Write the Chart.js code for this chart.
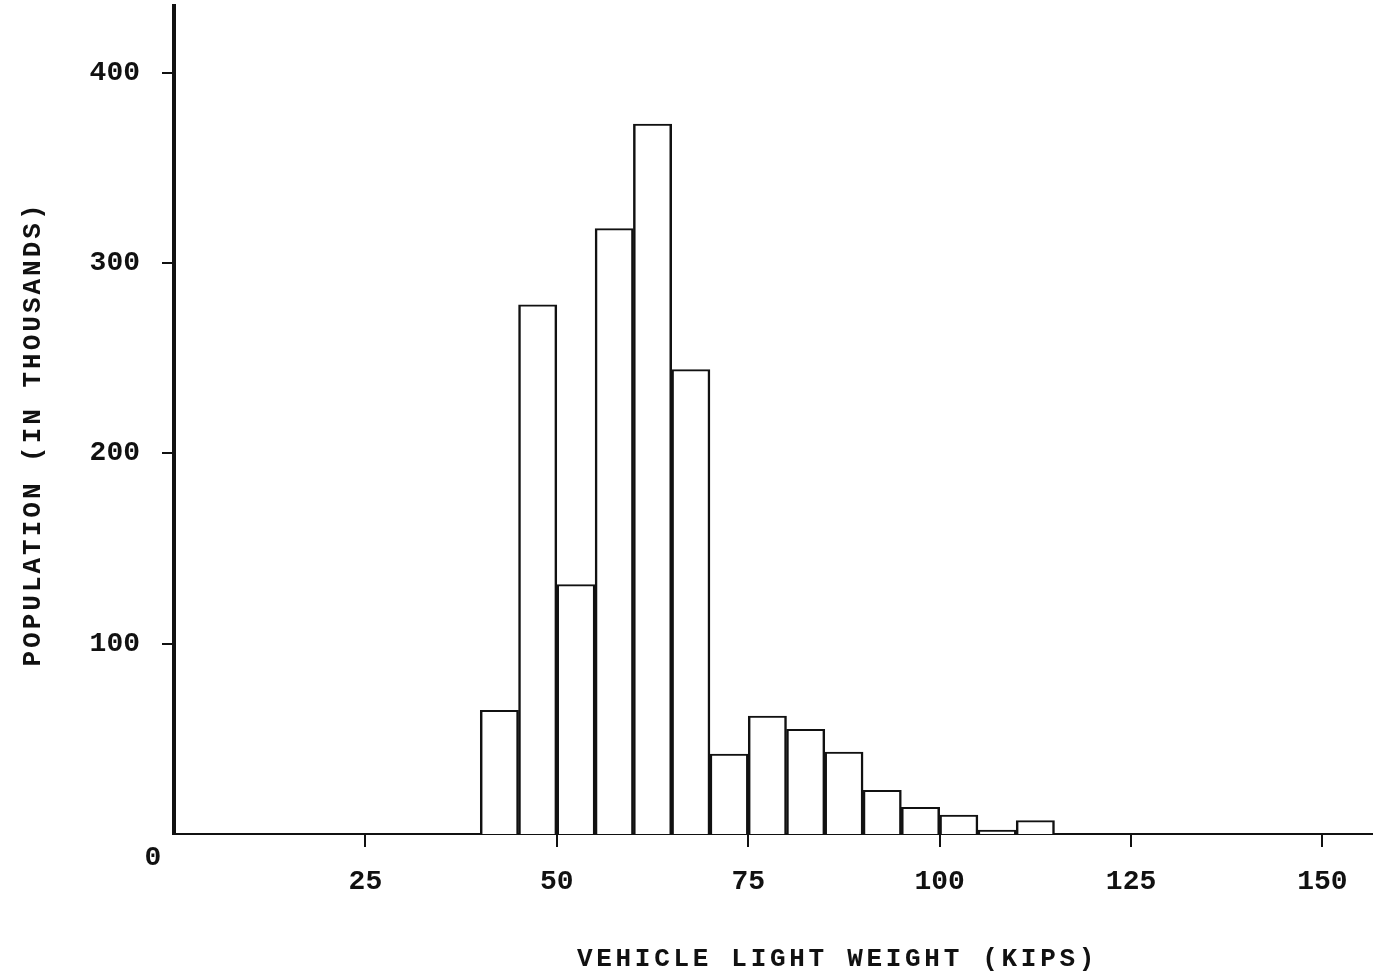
<!DOCTYPE html>
<html><head><meta charset="utf-8">
<script src="https://cdn.jsdelivr.net/npm/chart.js@4/dist/chart.umd.min.js"></script>
<style>html,body{margin:0;padding:0;background:#fff}#wrap{width:1373px;height:979px;position:relative}</style>
</head><body><div id="wrap"><canvas id="c"></canvas></div>
<script>
// ---- data ----
const binStarts = [40, 45, 50, 55, 60, 65, 70, 75, 80, 85, 90, 95, 100, 105, 110];
const binWidth = 5;
const population = [65, 278, 131, 318, 373, 244, 42, 62, 55, 43, 23, 14, 10, 2, 7];
const xTicks = [25, 50, 75, 100, 125, 150];
const yTicks = [100, 200, 300, 400];
const xTitle = 'VEHICLE LIGHT WEIGHT (KIPS)';
const yTitle = 'POPULATION (IN THOUSANDS)';
const originLabel = '0';

const FONT = "'Liberation Mono', 'DejaVu Sans Mono', monospace";
const INK = '#111';

const points = binStarts.map((s, i) => ({ x: s + binWidth / 2, y: population[i] }));

const titlesPlugin = {
  id: 'titles',
  afterDraw(chart) {
    const { ctx, chartArea, scales } = chart;
    ctx.save();
    ctx.fillStyle = INK;
    ctx.font = "bold 26px " + FONT;
    ctx.textAlign = 'center';
    ctx.textBaseline = 'middle';
    // x title
    ctx.letterSpacing = '3.7px';
    const cx = (chartArea.left + chartArea.right) / 2 + 64;
    ctx.fillText(xTitle, cx, 959);
    // y title
    ctx.letterSpacing = '3px';
    ctx.save();
    ctx.translate(33, (chartArea.top + chartArea.bottom) / 2 + 14);
    ctx.rotate(-Math.PI / 2);
    ctx.fillText(yTitle, 0, 0);
    ctx.restore();
    // origin label
    ctx.letterSpacing = '0px';
    ctx.font = "bold 28px " + FONT;
    ctx.fillText(originLabel, scales.x.left - 21, scales.y.getPixelForValue(0) + 24);
    ctx.restore();
  }
};

new Chart(document.getElementById('c'), {
  type: 'bar',
  data: {
    datasets: [{
      data: points,
      backgroundColor: '#ffffff',
      borderColor: INK,
      borderWidth: { top: 2, left: 2.5, right: 2.5, bottom: 0 },
      barPercentage: 1,
      categoryPercentage: 1
    }]
  },
  options: {
    responsive: true,
    maintainAspectRatio: false,
    animation: false,
    layout: { padding: { top: 6, right: 0, bottom: 0, left: 0 } },
    plugins: { legend: { display: false }, tooltip: { enabled: false } },
    scales: {
      x: {
        type: 'linear',
        min: 0,
        max: 156.6,
        offset: false,
        grid: { offset: false, drawOnChartArea: false, drawTicks: true, tickLength: 13, color: INK, lineWidth: 2 },
        border: { display: true, color: INK, width: 2 },
        afterBuildTicks(scale) { scale.ticks = xTicks.map(v => ({ value: v })); },
        afterFit(scale) { scale.height = 145; scale.paddingLeft = 0; scale.paddingRight = 0; },
        ticks: { color: INK, font: { family: FONT, size: 28, weight: 'bold' }, padding: 18, maxRotation: 0, autoSkip: false }
      },
      y: {
        type: 'linear',
        min: 0,
        max: 435,
        grid: { drawOnChartArea: false, drawTicks: true, tickLength: 12, color: INK, lineWidth: 2 },
        border: { display: true, color: INK, width: 4 },
        afterBuildTicks(scale) { scale.ticks = yTicks.map(v => ({ value: v })); },
        afterFit(scale) { scale.width = 174; scale.paddingTop = 0; scale.paddingBottom = 0; },
        ticks: { color: INK, font: { family: FONT, size: 28, weight: 'bold' }, padding: 22, autoSkip: false }
      }
    }
  },
  plugins: [titlesPlugin]
});
</script>
</body></html>
